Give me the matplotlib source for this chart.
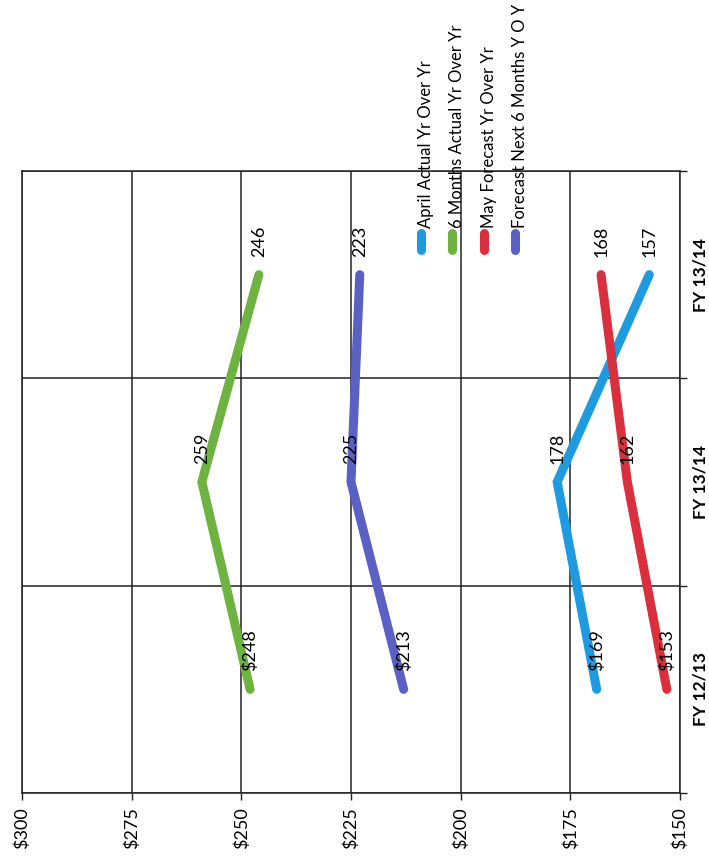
import matplotlib
matplotlib.use("Agg")
from matplotlib import pyplot as plt
from matplotlib.lines import Line2D

plt.rcParams['font.family'] = ['Lato', 'DejaVu Sans']

categories = ["FY 12/13", "FY 13/14", "FY 13/14"]
value_ticks = [150, 175, 200, 225, 250, 275, 300]

series_names = [
    "April Actual Yr Over Yr",
    "6 Months Actual Yr Over Yr",
    "May Forecast Yr Over Yr",
    "Forecast Next 6 Months Y O Y",
]
april_actual = [169, 178, 157]
six_month_actual = [248, 259, 246]
may_forecast = [153, 162, 168]
forecast_next_six = [213, 225, 223]

colors = ["#1e9be0", "#6db33f", "#da2f3d", "#5a60c4"]


def main():
    W, H = 709, 858
    fig = plt.figure(figsize=(W / 100, H / 100), dpi=100)
    fig.patch.set_facecolor("white")

    # page is turned on its side: value axis runs along the bottom, categories up the right
    left, right, top, bottom = 22, 680, 171, 793
    ax = fig.add_axes([left / W, (H - bottom) / H, (right - left) / W, (bottom - top) / H])
    ax.set_xlim(300, 150)
    ax.set_ylim(-0.5, len(categories) - 0.5)

    all_series = [april_actual, six_month_actual, may_forecast, forecast_next_six]
    ypos = list(range(len(categories)))
    for vals, col in zip(all_series, colors):
        ax.plot(vals, ypos, color=col, lw=6.5, solid_capstyle="round",
                solid_joinstyle="miter", zorder=3)
        for i, v in enumerate(vals):
            txt = f"${v}" if i == 0 else str(v)
            ax.annotate(txt, (v, ypos[i]), xytext=(0, 13), textcoords="offset points",
                        rotation=90, ha="center", va="bottom", fontsize=13,
                        color="black", zorder=4)

    # value axis
    ax.set_xticks(value_ticks)
    ax.set_xticklabels([f"${t}" for t in value_ticks], rotation=90, fontsize=13)
    ax.tick_params(axis="x", direction="out", length=5, width=1, color="#222222", pad=5)
    ax.grid(axis="x", color="#222222", lw=1.1, zorder=1)

    # category axis on the right, boundaries as gridlines
    ax.yaxis.tick_right()
    ax.set_yticks(ypos)
    ax.set_yticklabels(categories, rotation=90, fontsize=12.5, fontweight="bold", va="center")
    ax.set_yticks([y - 0.5 for y in ypos] + [ypos[-1] + 0.5], minor=True)
    ax.tick_params(axis="y", which="major", length=0, pad=9)
    ax.tick_params(axis="y", which="minor", direction="out", length=5, width=1,
                   color="#222222", right=True, left=False)
    ax.grid(axis="y", which="minor", color="#222222", lw=1.1, zorder=1)

    for sp in ax.spines.values():
        sp.set_color("#222222")
        sp.set_linewidth(1.1)

    # legend, drawn turned on its side
    legend_x = [421, 452, 484, 515]
    for name, col, lx in zip(series_names, colors, legend_x):
        fig.add_artist(Line2D([lx / W, lx / W], [(H - 233) / H, (H - 250) / H],
                              transform=fig.transFigure, color=col, lw=6.5,
                              solid_capstyle="round", zorder=5))
        fig.text((lx + 5) / W, (H - 228) / H, name, rotation=90, ha="center",
                 va="bottom", fontsize=12, color="black", zorder=6)

    plt.savefig("out.png", dpi=100)


if __name__ == "__main__":
    main()
